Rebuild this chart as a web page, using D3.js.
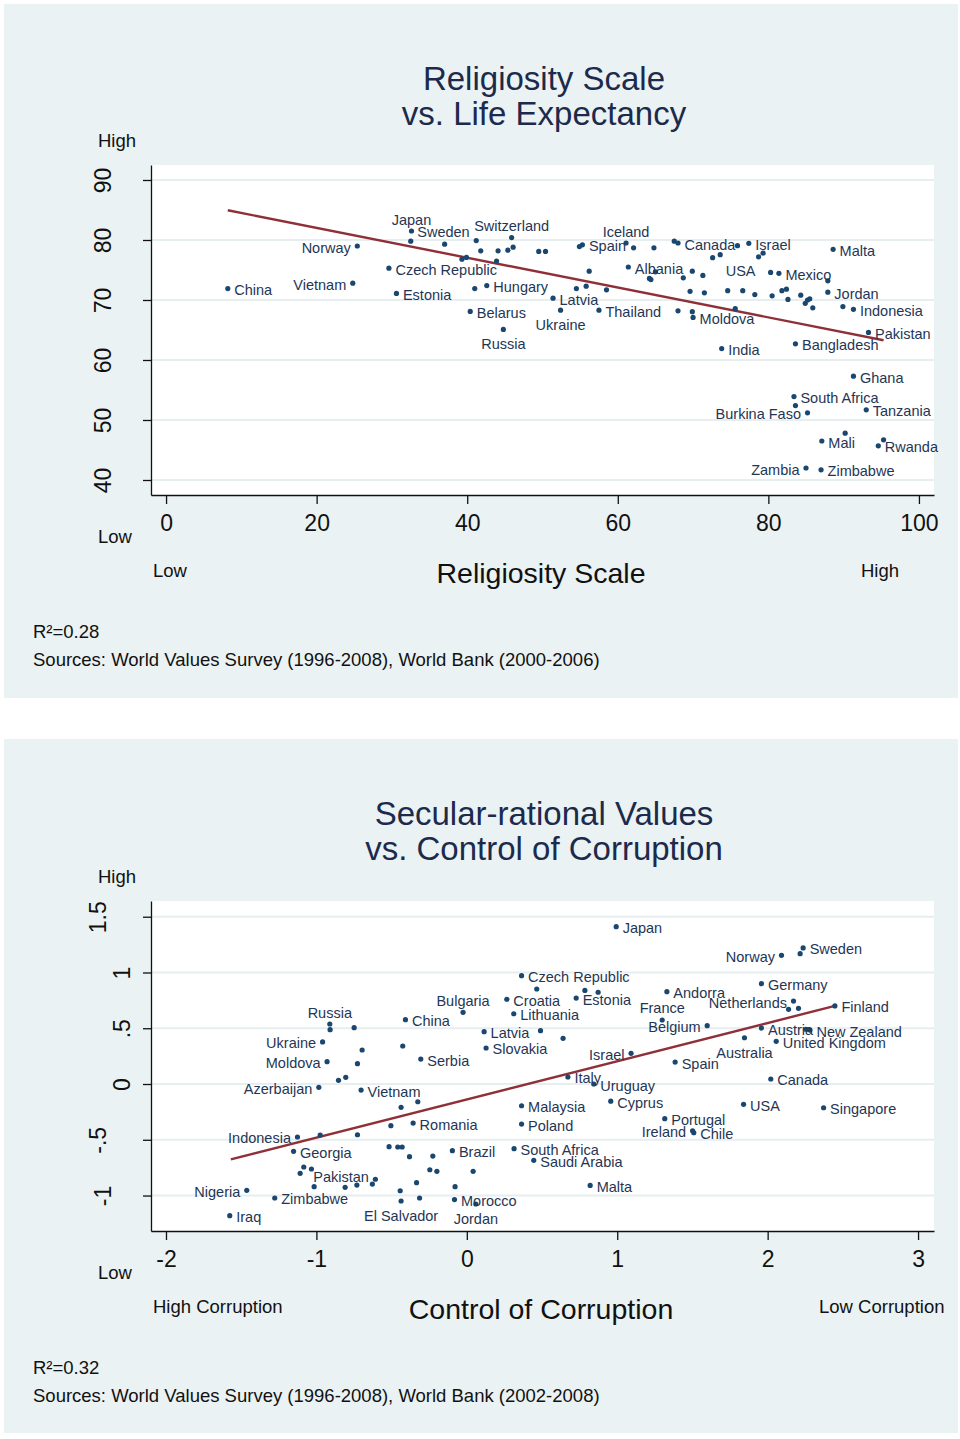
<!DOCTYPE html>
<html><head><meta charset="utf-8">
<script src="https://cdn.jsdelivr.net/npm/d3@7"></script>
<style>
body{margin:0;background:#fff}
svg{display:block}
text{font-family:"Liberation Sans",Arial,Helvetica,sans-serif}
</style>
</head><body>
<svg id="chart" width="960" height="1439"></svg>
<script>
// ---------- Chart 1 data: Religiosity Scale vs Life Expectancy ----------
const relCountries = ["China","Vietnam","Norway","Japan","Sweden","","","Switzerland","","","","","","","","Spain","Iceland","","","","","","Czech Republic","","Albania","","","","Estonia","","Hungary","","","","Latvia","Belarus","Ukraine","Thailand","Russia","","Canada","","Israel","","USA","","","Malta","","","","","Mexico","","","","","","","","","","","","","","","","Jordan","","Indonesia","","","Moldova","","Pakistan","India","Bangladesh","Ghana","South Africa","","Burkina Faso","Tanzania","","Mali","","Rwanda","Zambia","Zimbabwe"];
const religiosity = [8.2,24.8,25.4,32.6,32.5,37.0,41.2,45.9,41.8,44.1,45.4,46.1,49.5,50.4,54.9,55.3,61.1,62.1,64.8,39.3,39.9,43.9,29.6,56.2,61.4,64.2,64.4,65.0,30.6,41.0,42.6,54.5,55.8,58.5,51.4,40.4,52.4,57.5,44.8,67.5,68.0,75.9,77.4,72.6,73.6,78.7,79.3,88.6,69.9,68.7,71.3,80.3,81.4,87.9,69.6,71.5,74.6,76.6,78.2,80.5,81.8,82.4,82.6,84.3,84.9,85.2,85.5,85.9,87.9,89.9,91.3,68.0,69.9,70.0,75.6,93.3,73.8,83.6,91.3,83.4,83.6,85.2,93.0,90.2,87.1,95.3,94.6,85.0,87.0];
const lifeExpectancy = [71.9,72.8,79.0,81.5,79.8,79.3,79.9,80.4,78.2,78.2,78.3,78.8,78.1,78.1,78.9,79.2,79.5,78.7,78.7,76.8,77.1,76.5,75.3,74.8,75.5,73.6,73.4,74.7,71.1,71.9,72.4,71.9,72.3,71.7,70.3,68.1,68.3,68.3,65.1,79.8,79.5,79.05,79.45,77.05,77.55,77.2,77.8,78.45,74.8,73.7,74.1,74.6,74.45,73.2,71.45,71.2,71.55,71.55,70.9,70.7,71.55,71.8,70.1,70.8,69.45,70.0,70.2,68.7,71.3,68.9,68.45,68.2,68.05,67.1,68.55,64.6,61.9,62.7,57.3,53.9,52.4,51.2,51.7,47.8,46.5,46.7,45.7,42.0,41.7];
const relXTicks = [0,20,40,60,80,100];
const relYTicks = [40,50,60,70,80,90];
const relYTickLabels = ["40","50","60","70","80","90"];
const relXTickLabels = ["0","20","40","60","80","100"];
const relFitX = [8.2,95.3];
const relFitY = [84.95,63.3];

// ---------- Chart 2 data: Secular-rational Values vs Control of Corruption ----------
const corCountries = ["Russia","","","China","Bulgaria","Ukraine","","","Moldova","","Serbia","","","Azerbaijan","Vietnam","","","","Romania","Indonesia","","","Georgia","","","","","","Brazil","","","","","","","Pakistan","","","","","","","Nigeria","Zimbabwe","","El Salvador","","Morocco","Jordan","Iraq","Czech Republic","","","","Estonia","Croatia","Lithuania","Latvia","","","Slovakia","Israel","Italy","Uruguay","Cyprus","Malaysia","Poland","South Africa","Saudi Arabia","Malta","Japan","Norway","Sweden","","Germany","Andorra","France","Belgium","Netherlands","","","Finland","Austria","","New Zealand","Australia","United Kingdom","Spain","Canada","USA","Singapore","Portugal","Ireland","Chile"];
const controlCorruption = [-0.911,-0.909,-0.749,-0.408,-0.025,-0.959,-0.696,-0.426,-0.929,-0.727,-0.306,-0.853,-0.805,-0.984,-0.703,-0.437,-0.326,-0.505,-0.357,-1.126,-0.975,-0.727,-1.152,-0.517,-0.459,-0.430,-0.381,-0.226,-0.096,-1.084,-1.108,-1.033,-0.246,-0.199,0.042,-0.608,-0.628,-1.015,-0.809,-0.731,-0.334,-0.078,-1.463,-1.277,-0.443,-0.437,-0.314,-0.082,0.060,-1.576,0.364,0.465,0.785,0.873,0.727,0.266,0.312,0.115,0.490,0.640,0.128,1.092,0.672,0.844,0.957,0.364,0.364,0.314,0.445,0.820,0.993,2.092,2.236,2.216,1.959,1.330,1.299,1.598,2.172,2.139,2.205,2.447,1.959,2.254,2.281,1.846,2.057,1.385,2.021,1.840,2.372,1.316,1.501,1.509];
const secularRational = [0.538,0.487,0.505,0.577,0.643,0.377,0.305,0.341,0.200,0.182,0.224,0.033,0.060,-0.030,-0.054,-0.209,-0.159,-0.374,-0.350,-0.475,-0.457,-0.455,-0.604,-0.562,-0.565,-0.565,-0.652,-0.646,-0.598,-0.744,-0.801,-0.762,-0.769,-0.783,-0.783,-0.854,-0.897,-0.921,-0.926,-0.906,-0.885,-0.921,-0.953,-1.022,-0.957,-1.049,-1.022,-1.036,-1.076,-1.181,0.971,0.852,0.839,0.823,0.771,0.760,0.630,0.469,0.478,0.410,0.323,0.275,0.063,0.0,-0.154,-0.195,-0.359,-0.580,-0.684,-0.909,1.411,1.154,1.220,1.169,0.900,0.828,0.574,0.523,0.744,0.670,0.679,0.700,0.502,0.491,0.484,0.415,0.383,0.197,0.045,-0.182,-0.213,-0.311,-0.419,-0.437];
const corXTicks = [-2,-1,0,1,2,3];
const corXTickLabels = ["-2","-1","0","1","2","3"];
const corYTicks = [-1,-0.5,0,0.5,1,1.5];
const corYTickLabels = ["-1","-.5","0",".5","1","1.5"];
const corFitX = [-1.569,2.447];
const corFitY = [-0.675,0.70];

// ---------- label placement (clock positions, style only) ----------
const relLabelClock = {"Vietnam":9,"Norway":9,"Japan":12,"Sweden":1,"Switzerland":12,"Iceland":12,"Ukraine":6,"Russia":6,"USA":4,"Burkina Faso":9,"Zambia":9};
const corLabelClock = {"Russia":12,"Bulgaria":12,"Ukraine":9,"Moldova":9,"Azerbaijan":9,"Indonesia":9,"Pakistan":10,"Nigeria":9,"El Salvador":6,"Jordan":6,"Israel":9,"Norway":9,"France":12,"Belgium":9,"Netherlands":9,"Australia":6,"Ireland":9};
// horizontal centre of each rotated y tick label (style only)
const relYLabelCentre = [103,103,103,103,103,103];
const corYLabelCentre = [103,98,122,122,122,98];

const COL = {bg:"#eaf2f3", plot:"#ffffff", grid:"#e6eef0", dot:"#1a476f", label:"#1f3654", fit:"#8f3038", title:"#1c2a4c", ink:"#111111"};

const clockOffsets = {
  3:{dx:6.5,dy:1.5,anchor:"start"},
  9:{dx:-6.5,dy:1.5,anchor:"end"},
  10:{dx:-6.5,dy:-2.5,anchor:"end"},
  12:{dx:0,dy:-11.5,anchor:"middle"},
  6:{dx:0,dy:15,anchor:"middle"},
  1:{dx:6.5,dy:-9,anchor:"start"},
  4:{dx:5.5,dy:16,anchor:"start"}
};

const svg = d3.select("#chart");

function drawPanel(cfg){
  const g = svg.append("g");
  g.append("rect").attr("x",4).attr("y",cfg.top).attr("width",954).attr("height",694).attr("fill",COL.bg);

  cfg.title.forEach((t,i)=>{
    g.append("text").attr("x",544).attr("y",cfg.top+86+i*35).attr("text-anchor","middle")
      .attr("font-size",33).attr("fill",COL.title).text(t);
  });

  const x = d3.scaleLinear().domain(cfg.xDomain).range([151,934]);
  const y = d3.scaleLinear().domain(cfg.yDomain).range([cfg.plotBottom,cfg.plotTop]);

  g.append("rect").attr("x",151).attr("y",cfg.plotTop).attr("width",783)
    .attr("height",cfg.plotBottom-cfg.plotTop).attr("fill",COL.plot);

  g.append("g").selectAll("line").data(cfg.yTicks).join("line")
    .attr("x1",151).attr("x2",934).attr("y1",d=>y(d)).attr("y2",d=>y(d))
    .attr("stroke",COL.grid).attr("stroke-width",2);

  g.append("line").attr("x1",x(cfg.fitX[0])).attr("y1",y(cfg.fitY[0]))
    .attr("x2",x(cfg.fitX[1])).attr("y2",y(cfg.fitY[1]))
    .attr("stroke",COL.fit).attr("stroke-width",2.4);

  const pts = cfg.names.map((n,i)=>({name:n,xv:cfg.xs[i],yv:cfg.ys[i]}));

  g.append("g").selectAll("circle").data(pts).join("circle")
    .attr("cx",d=>x(d.xv)).attr("cy",d=>y(d.yv)).attr("r",2.6).attr("fill",COL.dot);

  g.append("g").selectAll("text").data(pts.filter(d=>d.name)).join("text")
    .each(function(d){
      const o = clockOffsets[cfg.clock[d.name]||3];
      d3.select(this).attr("x",x(d.xv)+o.dx).attr("y",y(d.yv)+o.dy)
        .attr("text-anchor",o.anchor).attr("dominant-baseline","central");
    })
    .attr("font-size",14.5).attr("fill",COL.label).text(d=>d.name);

  const ya = g.append("g").attr("transform","translate(151,0)")
    .call(d3.axisLeft(y).tickValues(cfg.yTicks).tickFormat((d,i)=>cfg.yTickLabels[i]).tickSize(8).tickSizeOuter(0));
  ya.select(".domain").attr("stroke",COL.ink).attr("stroke-width",1.3);
  ya.selectAll(".tick line").attr("stroke",COL.ink).attr("stroke-width",1.3);
  ya.selectAll(".tick text").attr("x",null).attr("dy",null).attr("y",null)
    .attr("transform",(d,i)=>`translate(${cfg.yLabelCentre[i]+8-151},0) rotate(-90)`).attr("text-anchor","middle")
    .attr("font-size",23).attr("font-family","Liberation Sans, Arial, sans-serif").attr("fill",COL.ink);

  const xa = g.append("g").attr("transform",`translate(0,${cfg.plotBottom})`)
    .call(d3.axisBottom(x).tickValues(cfg.xTicks).tickFormat((d,i)=>cfg.xTickLabels[i]).tickSize(9).tickSizeOuter(0));
  xa.select(".domain").attr("stroke",COL.ink).attr("stroke-width",1.3);
  xa.selectAll(".tick line").attr("stroke",COL.ink).attr("stroke-width",1.3);
  xa.selectAll(".tick text").attr("dy",null).attr("y",36)
    .attr("font-size",23).attr("font-family","Liberation Sans, Arial, sans-serif").attr("fill",COL.ink);

  g.append("text").attr("x",98).attr("y",cfg.plotTop-18).attr("font-size",18.5).attr("fill",COL.ink).text("High");
  g.append("text").attr("x",98).attr("y",cfg.plotBottom+48).attr("font-size",18.5).attr("fill",COL.ink).text("Low");

  g.append("text").attr("x",541).attr("y",cfg.plotBottom+88).attr("text-anchor","middle")
    .attr("font-size",28.5).attr("fill",COL.ink).text(cfg.xTitle);
  g.append("text").attr("x",153).attr("y",cfg.plotBottom+82).attr("font-size",18.5).attr("fill",COL.ink).text(cfg.xLow);
  g.append("text").attr("x",cfg.xHighX).attr("y",cfg.plotBottom+82).attr("font-size",18.5).attr("fill",COL.ink).text(cfg.xHigh);

  g.append("text").attr("x",33).attr("y",cfg.plotBottom+143).attr("font-size",18.5).attr("fill",COL.ink).text(cfg.r2);
  g.append("text").attr("x",33).attr("y",cfg.plotBottom+171).attr("font-size",18.5).attr("fill",COL.ink).text(cfg.source);
}

drawPanel({
  top:4, plotTop:165, plotBottom:495,
  title:["Religiosity Scale","vs. Life Expectancy"],
  xDomain:[-2,102], yDomain:[37.5,92.5],
  names:relCountries, xs:religiosity, ys:lifeExpectancy, clock:relLabelClock,
  xTicks:relXTicks, xTickLabels:relXTickLabels, yTicks:relYTicks, yTickLabels:relYTickLabels, yLabelCentre:relYLabelCentre,
  fitX:relFitX, fitY:relFitY,
  xTitle:"Religiosity Scale", xLow:"Low", xHigh:"High", xHighX:861,
  r2:"R\u00B2=0.28", source:"Sources: World Values Survey (1996-2008), World Bank (2000-2006)"
});

drawPanel({
  top:739, plotTop:901, plotBottom:1231,
  title:["Secular-rational Values","vs. Control of Corruption"],
  xDomain:[-2.0997,3.106], yDomain:[-1.318,1.641],
  names:corCountries, xs:controlCorruption, ys:secularRational, clock:corLabelClock,
  xTicks:corXTicks, xTickLabels:corXTickLabels, yTicks:corYTicks, yTickLabels:corYTickLabels, yLabelCentre:corYLabelCentre,
  fitX:corFitX, fitY:corFitY,
  xTitle:"Control of Corruption", xLow:"High Corruption", xHigh:"Low Corruption", xHighX:819,
  r2:"R\u00B2=0.32", source:"Sources: World Values Survey (1996-2008), World Bank (2002-2008)"
});
</script>
</body></html>
